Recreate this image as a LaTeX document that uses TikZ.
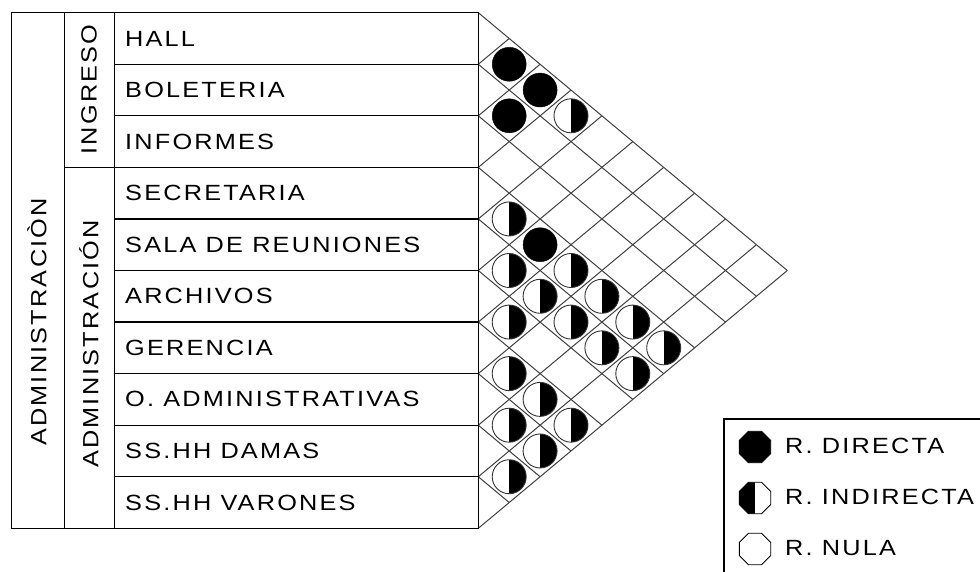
\documentclass[tikz,border=0pt]{standalone}
\usepackage{fontspec}
\newfontfamily\cadfont[LetterSpace=10,FakeStretch=1.15]{Liberation Sans}
\usetikzlibrary{shapes.geometric}
% medidas de la matriz (en pt)
\def\ytop{12.7}
\def\rowh{51.56}
\def\celw{30.9}
\def\xmat{478.3}
\tikzset{
  etiqueta/.style={font=\cadfont\fontsize{22}{26}\selectfont,inner sep=0pt},
  tabla/.style={line width=1.3pt,black},
  malla/.style={line width=1pt,black!75},
  rdirecta/.style={circle,draw=black,fill=black,minimum size=34pt,inner sep=0pt},
  rindirecta/.style={circle,draw=black!80,line width=0.9pt,fill=white,minimum size=34pt,
    inner sep=0pt,path picture={\fill[black] (path picture bounding box.north)
      rectangle (path picture bounding box.south east);}},
  leyendo/.style={regular polygon,regular polygon sides=8,minimum size=34pt,inner sep=0pt,
    draw=black,line width=0.9pt}
}

\begin{document}
\begin{tikzpicture}[x=1pt,y=-1pt]
\clip (0,0) rectangle (980,572);
% puntos del borde izquierdo de la matriz
\foreach \m in {0,...,10}
  \coordinate (b\m) at (\xmat,{\ytop+\m*\rowh});
% malla triangular
\foreach \m in {0,...,9}
  \draw[malla] (b\m) -- ++({(10-\m)*\celw},{(10-\m)*\rowh/2});
\foreach \m in {1,...,10}
  \draw[malla] (b\m) -- ++({\m*\celw},{-\m*\rowh/2});
% tabla
\draw[tabla] (11.7,\ytop) rectangle (b10);
\draw[tabla] (64.3,\ytop) -- (64.3,{\ytop+10*\rowh});
\draw[tabla] (114.3,\ytop) -- (114.3,{\ytop+10*\rowh});
\draw[tabla] (64.3,{\ytop+3*\rowh}) -- (b3);
\foreach \m in {1,2,4,5,6,7,8,9}
  \draw[tabla] (114.3,{\ytop+\m*\rowh}) -- (b\m);
% textos
\foreach \nombre [count=\k] in {HALL,BOLETERIA,INFORMES,SECRETARIA,SALA DE REUNIONES,
    ARCHIVOS,GERENCIA,O. ADMINISTRATIVAS,SS.HH DAMAS,SS.HH VARONES}
  \node[etiqueta,anchor=west] (fila\k) at (125,{\ytop+(\k-0.5)*\rowh}) {\nombre};
\node[etiqueta,rotate=90] (ingreso) at (89,89.5) {INGRESO};
\node[etiqueta,rotate=90] (zonaadm) at (89,344) {ADMINISTRACIÓN};
\node[etiqueta,rotate=90] (adm) at (37,322) {ADMINISTRACIÒN};
% relaciones
\foreach \i/\j in {1/2,1/3,2/3,4/6}
  \node[rdirecta] (r\i-\j) at ({\xmat+(\j-\i)*\celw},{\ytop+(\i+\j-1)*\rowh/2}) {};
\foreach \i/\j in {1/4,4/5,5/6,4/7,5/7,4/8,6/7,5/8,4/9,5/9,4/10,7/8,5/10,7/9,8/9,7/10,8/10,9/10}
  \node[rindirecta] (r\i-\j) at ({\xmat+(\j-\i)*\celw},{\ytop+(\i+\j-1)*\rowh/2}) {};
% leyenda
\draw[tabla] (724,419) rectangle (1000,600);
\node[leyendo,fill=black] (ldir) at (755,447) {};
\node[leyendo,path picture={\fill[black] (path picture bounding box.north west)
  rectangle (path picture bounding box.south);}] (lind) at (755,498) {};
\node[leyendo] (lnul) at (755,549) {};
\node[etiqueta,anchor=west] (tdir) at (785,446) {R. DIRECTA};
\node[etiqueta,anchor=west] (tind) at (785,497) {R. INDIRECTA};
\node[etiqueta,anchor=west] (tnul) at (785,548.5) {R. NULA};
\end{tikzpicture}
\end{document}
